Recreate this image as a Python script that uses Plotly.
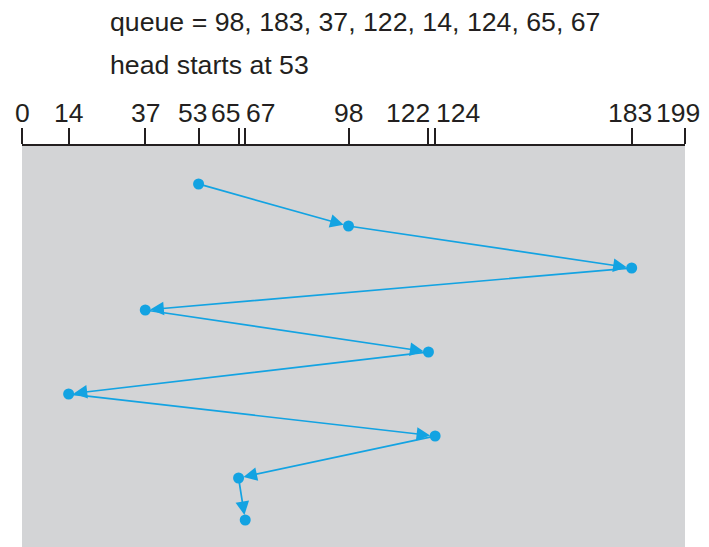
import plotly.graph_objects as go

# ---- data ----
queue = [98, 183, 37, 122, 14, 124, 65, 67]
head_start = 53
cylinder_ticks = [0, 14, 37, 53, 65, 67, 98, 122, 124, 183, 199]
cylinder_min = 0
cylinder_max = 199

path = [head_start] + queue
steps = list(range(len(path)))

# ---- style ----
BLUE = "#13a3e2"
GRAY = "#d3d4d6"
INK = "#231f20"
FONT = "Liberation Sans"
FS_TICK = 26.5
FS_TEXT = 26.7

# tick-label anchoring so crowded labels sit side by side (style only)
label_anchor = {53: ("right", 9), 65: ("right", 2), 67: ("left", 0),
                122: ("right", 3), 124: ("left", 0), 183: ("center", -2),
                199: ("center", -7)}

fig = go.Figure()

fig.add_trace(go.Scatter(
    x=path, y=steps, mode="markers",
    marker=dict(color=BLUE, size=11, line=dict(width=0)),
    hoverinfo="skip", showlegend=False,
))

for i in range(1, len(path)):
    fig.add_annotation(
        x=path[i], y=steps[i], ax=path[i - 1], ay=steps[i - 1],
        xref="x", yref="y", axref="x", ayref="y",
        text="", showarrow=True, arrowhead=2, arrowsize=1.6,
        arrowwidth=1.7, arrowcolor=BLUE, standoff=5, startstandoff=0,
    )

# tick labels
for v in cylinder_ticks:
    anc, sh = label_anchor.get(v, ("center", 0))
    fig.add_annotation(
        x=v, y=1, xref="x", yref="paper", xanchor=anc, yanchor="bottom",
        xshift=sh, yshift=17, text=str(v), showarrow=False, borderpad=0,
        font=dict(family=FONT, size=FS_TICK, color=INK),
    )

fig.add_annotation(
    x=0.1297, y=1.309, xref="paper", yref="paper", xanchor="left", yanchor="middle",
    text="queue = " + ", ".join(str(q) for q in queue), showarrow=False,
    font=dict(family=FONT, size=FS_TEXT, color=INK),
)
fig.add_annotation(
    x=0.1297, y=1.202, xref="paper", yref="paper", xanchor="left", yanchor="middle",
    text="head starts at " + str(head_start), showarrow=False,
    font=dict(family=FONT, size=FS_TEXT, color=INK),
)

fig.update_layout(
    width=701, height=539,
    margin=dict(l=14, r=24, t=138, b=0, pad=0),
    paper_bgcolor="white", plot_bgcolor=GRAY,
    showlegend=False,
    font=dict(family=FONT, size=FS_TICK, color=INK),
    xaxis=dict(
        range=[cylinder_min, cylinder_max], side="top",
        tickmode="array", tickvals=cylinder_ticks, showticklabels=False,
        ticks="outside", ticklen=16, tickwidth=1.6, tickcolor=INK,
        showline=True, linecolor=INK, linewidth=1.6,
        showgrid=False, zeroline=False, fixedrange=True,
    ),
    xaxis2=dict(
        range=[cylinder_min, cylinder_max], overlaying="x", side="top",
        anchor="y", tickmode="array", tickvals=[cylinder_min, cylinder_max],
        ticks="inside", ticklen=17, tickwidth=1.6, tickcolor=INK,
        showticklabels=False, showline=False, showgrid=False, zeroline=False,
    ),
    yaxis=dict(
        range=[8.643, -0.905], visible=False, showgrid=False, zeroline=False,
        fixedrange=True,
    ),
)

fig.write_html("out.html")
